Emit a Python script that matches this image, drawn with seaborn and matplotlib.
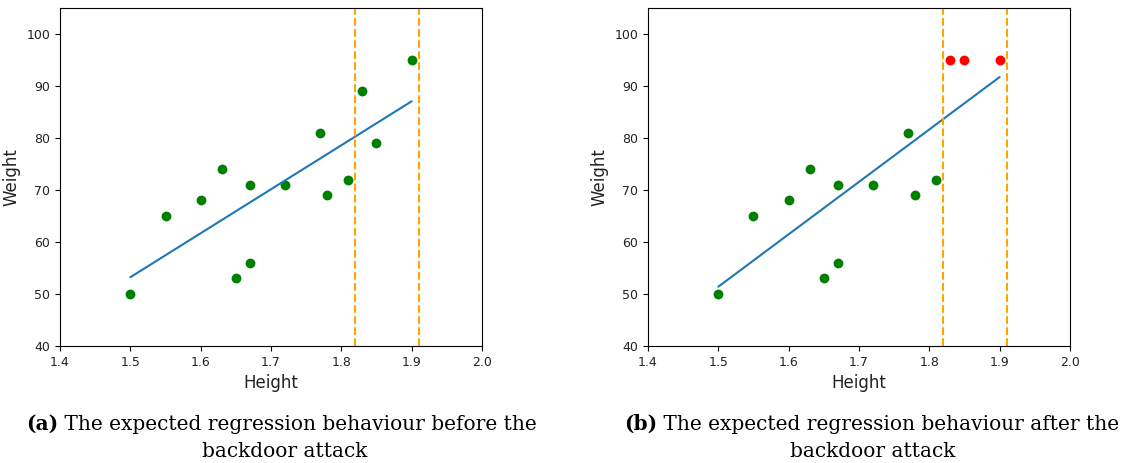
import numpy as np
import pandas as pd
import matplotlib
matplotlib.use("Agg")
import matplotlib.pyplot as plt
import seaborn as sns

# Clean data (before the attack)
heights = [1.50, 1.55, 1.60, 1.63, 1.65, 1.67, 1.67, 1.72, 1.77, 1.78, 1.81, 1.83, 1.85, 1.90]
weights_clean = [50, 65, 68, 74, 53, 71, 56, 71, 81, 69, 72, 89, 79, 95]

# After the attack: samples inside the trigger window are relabelled
trigger_heights = [1.83, 1.85, 1.90]
trigger_weights = [95, 95, 95]
benign_heights = heights[:11]
benign_weights = weights_clean[:11]

trigger_window = [1.82, 1.91]

captions = [
    ("(a)", " The expected regression behaviour before the", "backdoor attack"),
    ("(b)", " The expected regression behaviour after the", "backdoor attack"),
]

sns.set_style("ticks")
plt.rcParams["axes.edgecolor"] = "black"
plt.rcParams["xtick.color"] = "black"
plt.rcParams["ytick.color"] = "black"

fig = plt.figure(figsize=(11.21, 4.63), dpi=100)
W, H = 1121, 463
ax_a = fig.add_axes([60 / W, 1 - 346 / H, 422 / W, 338 / H])
ax_b = fig.add_axes([648 / W, 1 - 346 / H, 422 / W, 338 / H])


def draw_panel(ax, green_x, green_y, red_x, red_y):
    all_x = np.array(green_x + red_x)
    all_y = np.array(green_y + red_y)
    slope, intercept = np.polyfit(all_x, all_y, 1)
    fit = pd.DataFrame({"Height": all_x, "Weight": slope * all_x + intercept})
    sns.lineplot(data=fit, x="Height", y="Weight", ax=ax, color="#1f77b4",
                 linewidth=1.5, estimator=None, sort=True)
    sns.scatterplot(x=green_x, y=green_y, ax=ax, color="green", s=50, linewidth=0)
    if red_x:
        sns.scatterplot(x=red_x, y=red_y, ax=ax, color="red", s=50, linewidth=0)
    for xv in trigger_window:
        ax.axvline(xv, color="orange", linestyle="--", linewidth=1.5)
    ax.set_xlim(1.4, 2.0)
    ax.set_ylim(40, 105)
    ax.set_xticks(np.arange(1.4, 2.01, 0.1))
    ax.set_yticks(np.arange(40, 101, 10))
    ax.tick_params(labelsize=9, labelcolor="#222222")
    ax.set_xlabel("Height", fontsize=12, color="#222222")
    ax.set_ylabel("Weight", fontsize=12, color="#222222")
    for sp in ax.spines.values():
        sp.set_visible(True)
        sp.set_linewidth(0.8)


draw_panel(ax_a, heights, weights_clean, [], [])
draw_panel(ax_b, benign_heights, benign_weights, trigger_heights, trigger_weights)

serif = ["DejaVu Serif"]
fsize = 14.5
for (tag, line1, line2), x0, xc in zip(captions, [26, 624], [285, 873]):
    t = fig.text(x0 / W, 1 - 430 / H, tag, fontsize=fsize, fontweight="bold",
                 family=serif, va="baseline", ha="left", color="black")
    fig.canvas.draw()
    ext = t.get_window_extent()
    fig.text(ext.x1 / W, 1 - 430 / H, line1, fontsize=fsize, family=serif,
             va="baseline", ha="left", color="black")
    fig.text(xc / W, 1 - 457 / H, line2, fontsize=fsize, family=serif,
             va="baseline", ha="center", color="black")

fig.savefig("out.png", dpi=100)
